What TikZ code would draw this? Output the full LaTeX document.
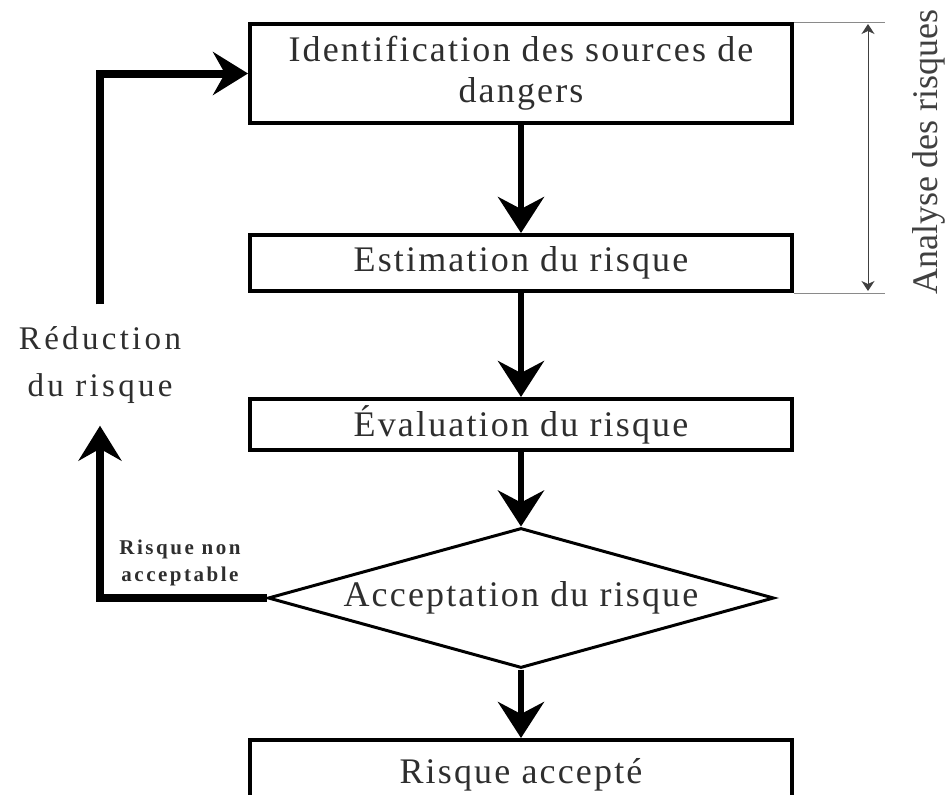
\documentclass[tikz,border=0pt]{standalone}
\usepackage{fontspec}
\setmainfont{Liberation Serif}
\newfontfamily\boxfont[LetterSpace=6]{Liberation Serif}
\newfontfamily\redfont[LetterSpace=10]{Liberation Serif}
\newfontfamily\smallfont[LetterSpace=12]{Liberation Serif}
\usetikzlibrary{arrows.meta,shapes.geometric,calc}
\definecolor{txt}{HTML}{2E2E2E}
\definecolor{thinline}{HTML}{8A8A8A}
\begin{document}
\begin{tikzpicture}[x=1pt,y=-1pt,
  box/.style={draw=black,line width=4pt,minimum width=542pt,inner sep=0pt,
    text=txt,font=\boxfont\fontsize{36}{41}\selectfont,align=center},
  decision/.style={diamond,draw=black,line width=3pt,minimum width=506pt,
    minimum height=140pt,aspect=3.6,inner sep=0pt,text=txt,
    font=\boxfont\fontsize{36}{41}\selectfont},
  flow/.style={line width=6pt,-{Stealth[length=36pt,width=46pt,inset=12pt]}},
  fb/.style={line width=8pt,-{Stealth[length=35pt,width=43pt,inset=12pt]}},
  thin/.style={draw=thinline,line width=1pt},
  dim/.style={line width=1pt,draw=black!75,
    {Stealth[length=10pt,width=13pt,inset=3pt]}-{Stealth[length=10pt,width=13pt,inset=3pt]}}
]
\useasboundingbox (0,0) rectangle (946,795);
\clip (0,0) rectangle (946,795);

\node[box,minimum height=99pt] (b1) at (521,73.5) {Identification des sources de\\dangers};
\node[box,minimum height=56pt] (b2) at (521,263) {Estimation du risque};
\node[box,minimum height=51pt] (b3) at (521,424.5) {Évaluation du risque};
\node[decision] (dia) at (521,598) {Acceptation du risque};
\node[box,minimum height=70pt] (b4) at (521,775) {Risque accepté};

\draw[flow] (b1) -- (b2);
\draw[flow] (b2) -- (b3);
\draw[flow] (b3) -- (dia);
\draw[flow] (dia) -- (b4);

\node[text=txt,font=\redfont\fontsize{33}{47}\selectfont,align=center,
  minimum height=121pt,inner sep=0pt] (red) at (100,365) {Réduction\\du risque};
\node[text=txt,font=\smallfont\bfseries\fontsize{21}{27}\selectfont,align=center,
  inner sep=0pt] (rna) at (180,563) {Risque non\\acceptable};

\draw[fb] (dia.west) -| (red.south);
\draw[fb] (red.north) |- (b1.west);

\draw[thin] (b1.north east) -- ++(91,0) coordinate (t1);
\draw[thin] (b2.south east) -- ++(91,0) coordinate (t2);
\coordinate (dt) at (868,24);
\coordinate (db) at (868,291);
\draw[dim] (dt) -- (db);
\node[rotate=90,anchor=base,text=black!75,font=\fontsize{36}{40}\selectfont,inner sep=0pt]
  (ana) at (937,152) {Analyse des risques};
\end{tikzpicture}
\end{document}
